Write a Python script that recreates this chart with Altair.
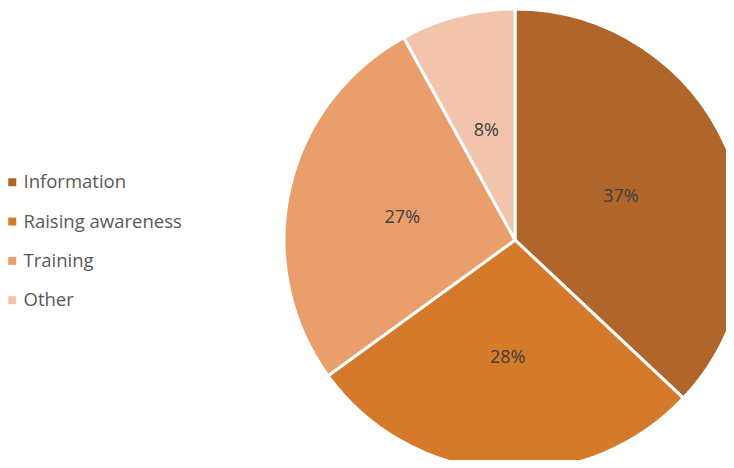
import altair as alt
import pandas as pd

categories = ["Information", "Raising awareness", "Training", "Other"]
values = [37, 28, 27, 8]
labels = ["37%", "28%", "27%", "8%"]
colors = ["#B0662A", "#D57A2A", "#E99E6B", "#F2C4AC"]

df = pd.DataFrame({
    "category": categories,
    "value": values,
    "label": labels,
    "idx": list(range(len(categories))),
})

cx, cy, r = 507, 232, 231

base = alt.Chart(df).encode(
    theta=alt.Theta("value:Q", stack=True),
    order=alt.Order("idx:Q"),
)

arcs = base.mark_arc(outerRadius=r, stroke="white", strokeWidth=3).encode(
    x=alt.value(cx),
    y=alt.value(cy),
    color=alt.Color(
        "category:N",
        sort=categories,
        scale=alt.Scale(domain=categories, range=colors),
        legend=alt.Legend(
            title=None,
            orient="none",
            legendX=-5,
            legendY=165,
            symbolType="square",
            symbolSize=64,
            symbolStrokeWidth=0,
            labelFontSize=18.5,
            labelFont="Open Sans",
            labelColor="#595959",
            rowPadding=20.3,
            labelOffset=2,
        ),
    ),
)

text = base.mark_text(radius=r / 2, fontSize=18, font="Open Sans", color="#404040", dy=3).encode(
    x=alt.value(cx),
    y=alt.value(cy),
    text="label:N",
)

chart = (arcs + text).properties(
    width=718,
    height=452,
    autosize=alt.AutoSizeParams(type="none"),
    padding=0,
).configure_view(stroke=None)

chart.save("out.html", embed_options={"renderer": "svg", "actions": False})
